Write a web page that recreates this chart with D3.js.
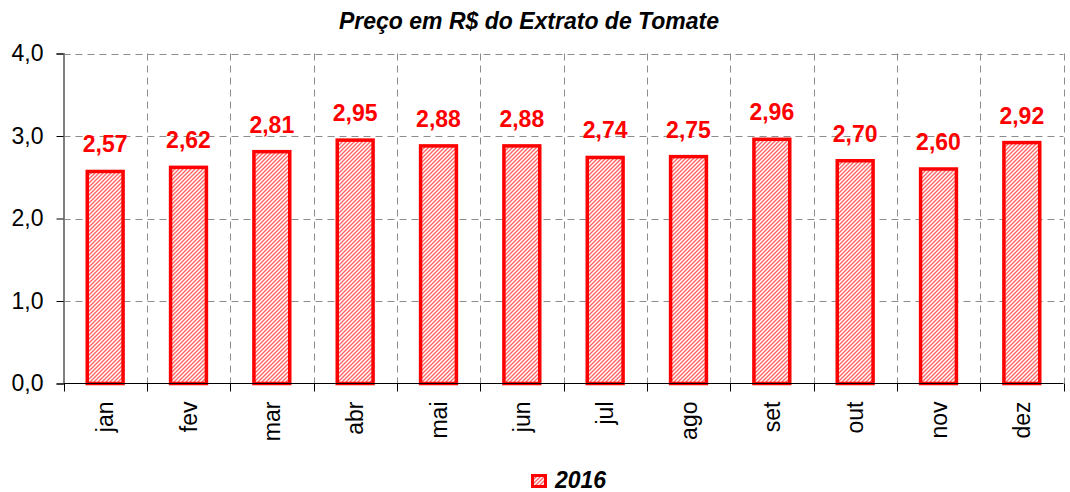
<!DOCTYPE html>
<html><head><meta charset="utf-8">
<script src="https://cdn.jsdelivr.net/npm/d3@7"></script>
<style>body{margin:0;background:#fff}svg{display:block}</style>
</head><body>
<svg id="c" width="1070" height="492"></svg>
<script>
const months = ["jan","fev","mar","abr","mai","jun","jul","ago","set","out","nov","dez"];
const values2016 = [2.57,2.62,2.81,2.95,2.88,2.88,2.74,2.75,2.96,2.70,2.60,2.92];
const yTicks = [0,1,2,3,4];
const seriesName = "2016";
const title = "Preço em R$ do Extrato de Tomate";

const svg = d3.select("#c");
const FONT = "Liberation Sans, Arial, sans-serif";
const m = {left:63.5, right:1063.5, top:53.5, bottom:383.5};
const fmt = v => d3.format(".2f")(v).replace(".", ",");
const fmt1 = v => d3.format(".1f")(v).replace(".", ",");

const defs = svg.append("defs");
const pat = defs.append("pattern").attr("id","hatch").attr("patternUnits","userSpaceOnUse")
  .attr("width",4).attr("height",4);
pat.append("rect").attr("width",4).attr("height",4).attr("fill","#ffffff");
pat.append("polygon").attr("points","0,3 3,0 4,0 4,1 1,4 0,4").attr("fill","#ff6666");
pat.append("polygon").attr("points","3,4 4,3 4,4").attr("fill","#ff6666");
pat.append("polygon").attr("points","0,0 0,1 1,0").attr("fill","#ff6666");

const x = d3.scaleBand().domain(months).range([m.left, m.right]).paddingInner(0).paddingOuter(0);
const y = d3.scaleLinear().domain([0,4]).range([m.bottom, m.top]);

// gridlines
svg.append("g").selectAll("line").data(yTicks.filter(d=>d>0)).join("line")
  .attr("x1", m.left).attr("x2", m.right)
  .attr("y1", d=>Math.round(y(d))+0.5).attr("y2", d=>Math.round(y(d))+0.5)
  .attr("stroke","#8c8c8c").attr("stroke-dasharray","7,5").attr("stroke-width",1);
svg.append("g").selectAll("line").data(d3.range(1, months.length+1)).join("line")
  .attr("x1", i=>Math.round(m.left + i*x.bandwidth())+0.5)
  .attr("x2", i=>Math.round(m.left + i*x.bandwidth())+0.5)
  .attr("y1", m.top).attr("y2", m.bottom)
  .attr("stroke","#8c8c8c").attr("stroke-dasharray","7,5").attr("stroke-width",1);

// bars
const bw = x.bandwidth()*0.43;
svg.append("g").selectAll("rect").data(values2016).join("rect")
  .attr("x", (d,i)=>x(months[i]) + x.bandwidth()/2 - bw/2)
  .attr("y", d=>y(d))
  .attr("width", bw)
  .attr("height", d=>y(0)-y(d))
  .attr("fill","url(#hatch)")
  .attr("stroke","#ff0000").attr("stroke-width",3.5);

// value labels
svg.append("g").selectAll("text").data(values2016).join("text")
  .attr("x",(d,i)=>x(months[i]) + x.bandwidth()/2)
  .attr("y", d=>y(d)-19)
  .attr("text-anchor","middle")
  .attr("font-family",FONT)
  .attr("font-weight","bold").attr("font-size",23)
  .attr("fill","#ff0000")
  .text(d=>fmt(d));

// y axis
const ya = svg.append("g").attr("transform",`translate(${m.left},0)`)
  .call(d3.axisLeft(y).tickValues(yTicks).tickFormat(fmt1).tickSize(7).tickPadding(13));
ya.select(".domain").attr("stroke","#808080").attr("stroke-width",2);
ya.selectAll(".tick line").attr("stroke","#000");
ya.selectAll("text").attr("font-family",FONT).attr("font-size",23).attr("fill","#000");

// x axis
svg.append("line").attr("x1",m.left).attr("x2",m.right).attr("y1",m.bottom).attr("y2",m.bottom)
  .attr("stroke","#000").attr("stroke-width",1);
svg.append("g").selectAll("line").data(d3.range(months.length+1)).join("line")
  .attr("x1",i=>Math.round(m.left + i*x.bandwidth())+0.5)
  .attr("x2",i=>Math.round(m.left + i*x.bandwidth())+0.5)
  .attr("y1",m.bottom).attr("y2",m.bottom+8)
  .attr("stroke","#000");
svg.append("g").selectAll("text").data(months).join("text")
  .attr("transform",d=>`translate(${x(d)+x.bandwidth()/2+8},${m.bottom+18}) rotate(-90)`)
  .attr("text-anchor","end")
  .attr("font-family",FONT).attr("font-size",23)
  .text(d=>d);

// title
svg.append("text").attr("x",529).attr("y",29).attr("text-anchor","middle")
  .attr("font-family",FONT).attr("font-weight","bold")
  .attr("font-style","italic").attr("font-size",23).text(title);

// legend
const lg = svg.append("g").attr("transform","translate(531,474)");
lg.append("rect").attr("x",1.5).attr("y",1.5).attr("width",13).attr("height",11)
  .attr("fill","url(#hatch)").attr("stroke","#ff0000").attr("stroke-width",3);
lg.append("text").attr("x",24).attr("y",14)
  .attr("font-family",FONT).attr("font-weight","bold")
  .attr("font-style","italic").attr("font-size",23).text(seriesName);
</script>
</body></html>
